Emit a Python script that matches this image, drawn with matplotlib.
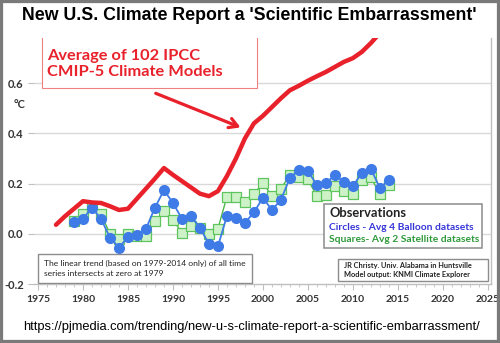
import matplotlib
matplotlib.use("Agg")
import matplotlib.pyplot as plt
from matplotlib.patches import Rectangle
from matplotlib.ticker import MultipleLocator

# model average (red) and the two observation averages
model_years = list(range(1977, 2014))
model_vals = [0.036, 0.07, 0.10, 0.13, 0.125, 0.123, 0.11, 0.095, 0.10, 0.14,
              0.18, 0.22, 0.262, 0.235, 0.21, 0.185, 0.16, 0.15, 0.17, 0.23,
              0.30, 0.38, 0.44, 0.47, 0.505, 0.54, 0.572, 0.59, 0.61, 0.628,
              0.645, 0.665, 0.685, 0.70, 0.725, 0.76, 0.80]

obs_years = list(range(1979, 2015))
balloon = [0.048, 0.06, 0.104, 0.06, -0.015, -0.055, -0.012, -0.004, 0.02, 0.104,
           0.174, 0.123, 0.06, 0.071, 0.024, -0.04, -0.05, 0.071, 0.065, 0.044,
           0.085, 0.144, 0.095, 0.135, 0.223, 0.254, 0.25, 0.195, 0.202, 0.234,
           0.207, 0.19, 0.243, 0.259, 0.183, 0.213]
satellite = [0.05, 0.08, 0.105, 0.08, 0.0, -0.02, 0.0, -0.01, -0.01, 0.05,
             0.09, 0.055, 0.005, 0.03, 0.025, 0.0, 0.02, 0.148, 0.145, 0.128,
             0.157, 0.204, 0.15, 0.18, 0.234, 0.226, 0.217, 0.15, 0.155, 0.19,
             0.17, 0.157, 0.213, 0.226, 0.157, 0.193]

x_ticks = [1975, 1980, 1985, 1990, 1995, 2000, 2005, 2010, 2015, 2020, 2025]
y_ticks = [-0.2, 0.0, 0.2, 0.4, 0.6]

RED = "#e8212b"
BLUE = "#3f7be6"
GREEN = "#4cb84c"
GRID = "#d9d9d9"
TXT = "Lato"

fig = plt.figure(figsize=(5, 3.43), dpi=100)
ax = fig.add_axes([0.067, 0.172, 0.914, 0.717])

ax.set_xlim(1974.5, 2025.3)
ax.set_ylim(-0.2, 0.78)

for y in y_ticks[1:]:
    ax.axhline(y, color=GRID, lw=1.0, zorder=0)

ax.plot(model_years, model_vals, color=RED, lw=3.2, solid_joinstyle="round",
        solid_capstyle="round", zorder=4)
ax.plot(obs_years, satellite, color=GREEN, lw=1.0, marker="s", ms=6.5,
        mfc="#cdf2c8", mec="#5ec45e", mew=0.9, zorder=2)
ax.plot(obs_years, balloon, color=BLUE, lw=1.3, marker="o", ms=7,
        mfc=BLUE, mec=BLUE, zorder=3)

for side in ["top", "left"]:
    ax.spines[side].set_visible(False)
for side in ["bottom", "right"]:
    ax.spines[side].set_color("#bfbfbf")
    ax.spines[side].set_linewidth(1.0)

ax.set_xticks(x_ticks)
ax.xaxis.set_minor_locator(MultipleLocator(1))
ax.set_yticks(y_ticks)
ax.set_yticklabels(["-0.2", "0.0", "0.2", "0.4", "0.6"])
ax.tick_params(axis="x", which="major", length=4, color="#bfbfbf", pad=4,
               labelsize=7.5, labelcolor="#333333")
ax.tick_params(axis="x", which="minor", length=2.5, color="#bfbfbf")
ax.tick_params(axis="y", length=4, color="#bfbfbf", pad=3, labelsize=8,
               labelcolor="#333333")
for lab in ax.get_xticklabels() + ax.get_yticklabels():
    lab.set_fontfamily(TXT)
    lab.set_fontweight("bold")

# red label box + arrow
ax.add_patch(Rectangle((1975.4, 0.58), 23.9, 0.25, fc="white", ec="#f08080",
                       lw=0.8, zorder=5, clip_on=True))
ax.text(1976.0, 0.735, "Average of 102 IPCC\nCMIP-5 Climate Models", color=RED,
        fontsize=11.8, fontfamily=TXT, fontweight="bold", va="top", ha="left",
        linespacing=1.15, zorder=6)
ax.annotate("", xy=(1997.8, 0.42), xytext=(1987.8, 0.564),
            arrowprops=dict(arrowstyle="->,head_length=0.6,head_width=0.35",
                            color=RED, lw=2.3), zorder=6)

# observations legend
ax.add_patch(Rectangle((2006.8, -0.056), 17.5, 0.176, fc="white", ec="#8c8c8c",
                       lw=1.1, zorder=5))
ax.text(2007.4, 0.105, "Observations", fontsize=9.3, fontfamily=TXT,
        fontweight="bold", color="#222222", va="top", zorder=6)
ax.text(2007.4, 0.027, "Circles - Avg 4 Balloon datasets", fontsize=7.4,
        fontfamily=TXT, fontweight="bold", color="#3535d8", va="center", zorder=6)
ax.text(2007.4, -0.021, "Squares- Avg 2 Satellite datasets", fontsize=7.4,
        fontfamily=TXT, fontweight="bold", color="#2e9a3a", va="center", zorder=6)

# trend note
ax.add_patch(Rectangle((1975.0, -0.196), 23.8, 0.116, fc="white", ec="#8c8c8c",
                       lw=1.0, zorder=5))
ax.text(1975.7, -0.138, "The linear trend (based on 1979-2014 only) of all time\n"
        "series intersects at zero at 1979", fontsize=6.1, fontfamily=TXT,
        color="#222222", va="center", linespacing=1.35, zorder=6)

# source note
ax.add_patch(Rectangle((2008.4, -0.188), 16.6, 0.088, fc="white", ec="#8c8c8c",
                       lw=1.0, zorder=5))
ax.text(2009.0, -0.144, "JR Christy. Univ. Alabama in Huntsville\n"
        "Model output: KNMI Climate Explorer", fontsize=5.3, fontfamily=TXT,
        fontweight="bold", color="#222222", va="center", linespacing=1.35,
        zorder=6)

fig.text(0.04, 0.694, "°C", fontsize=8, fontfamily=TXT, fontweight="bold",
         color="#333333", ha="center", va="center")

fig.text(0.498, 0.954, "New U.S. Climate Report a 'Scientific Embarrassment'",
         fontsize=12.8, fontfamily="Liberation Sans", fontweight="bold",
         ha="center", va="center")
fig.text(0.503, 0.047,
         "https://pjmedia.com/trending/new-u-s-climate-report-a-scientific-embarrassment/",
         fontsize=9.3, fontfamily="Liberation Sans", ha="center", va="center")

fig.patches.append(Rectangle((0, 0), 1, 1, transform=fig.transFigure, fill=False,
                             ec="#7a7a7a", lw=4.5, zorder=10))

fig.savefig("out.png", dpi=100)
